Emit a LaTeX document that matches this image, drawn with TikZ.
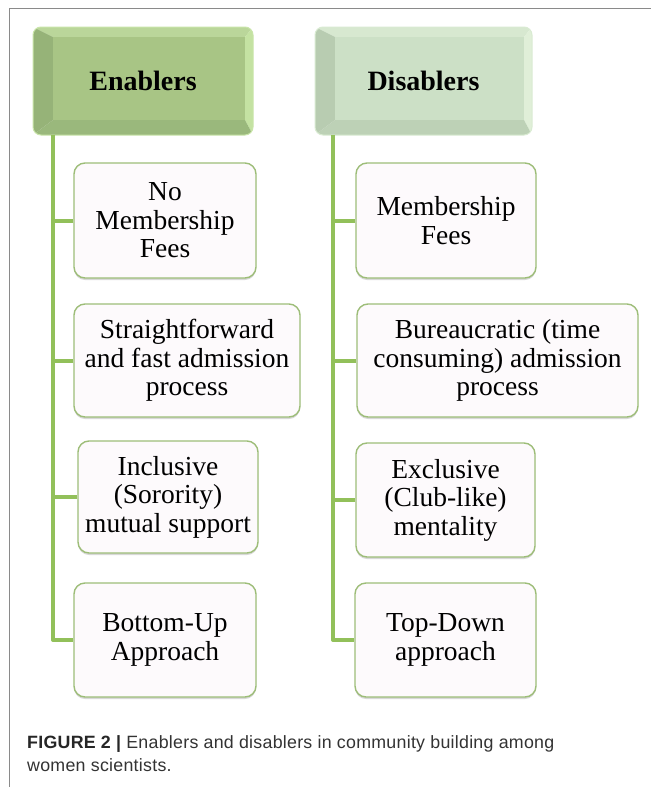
\documentclass[tikz,border=0pt]{standalone}
\usepackage{fontspec}
\setmainfont{Liberation Serif}
\newfontfamily\capfont[LetterSpace=1.5]{Liberation Sans}
\usetikzlibrary{shadows}
\definecolor{framegray}{HTML}{8A8A8A}
\definecolor{conngreen}{HTML}{92C05A}
\definecolor{boxgreen}{HTML}{9DBD78}
\definecolor{boxfill}{HTML}{FDFAFC}
\definecolor{enFace}{HTML}{A8C585}
\definecolor{enTop}{HTML}{BAD69A}
\definecolor{enRight}{HTML}{C4E2A2}
\definecolor{enLeft}{HTML}{96B378}
\definecolor{enBot}{HTML}{9AB87C}
\definecolor{enEdge}{HTML}{C9E5A9}
\definecolor{diFace}{HTML}{CCE0C6}
\definecolor{diTop}{HTML}{D7E8D0}
\definecolor{diRight}{HTML}{E0EFD8}
\definecolor{diLeft}{HTML}{B8CCB1}
\definecolor{diBot}{HTML}{BDD1B6}
\definecolor{diEdge}{HTML}{D9EBD2}
\definecolor{capgray}{HTML}{333333}
\begin{document}
\begin{tikzpicture}[x=1pt,y=-1pt,
  itembox/.style={draw=boxgreen, line width=1.4pt, fill=boxfill, rounded corners=11pt,
    align=center, font=\fontsize{27.5}{28.5}\selectfont, inner sep=0pt,
    drop shadow={shadow xshift=0pt, shadow yshift=-2pt, opacity=0.25, fill=black!60}},
  hdrtext/.style={font=\bfseries\fontsize{28}{30}\selectfont, inner sep=0pt, anchor=base},
  conn/.style={draw=conngreen, line width=4pt, line join=round},
  captext/.style={font=\capfont\fontsize{17.8}{23}\selectfont, text=capgray, anchor=base west, inner sep=0pt}
]
\useasboundingbox (0,0) rectangle (651,787);
\fill[white] (0,0) rectangle (651,787);
\draw[framegray, line width=1pt] (9,787) -- (9,8.5) -- (651,8.5);

% Enablers header (bevelled)
\begin{scope}
\clip[rounded corners=8pt] (33,27) rectangle (253,135);
\fill[enTop] (33,27) -- (253,27) -- (245,37) -- (53,37) -- cycle;
\fill[enRight] (253,27) -- (253,135) -- (245,120) -- (245,37) -- cycle;
\fill[enBot] (33,135) -- (253,135) -- (245,120) -- (53,120) -- cycle;
\fill[enLeft] (33,27) -- (53,37) -- (53,120) -- (33,135) -- cycle;
\fill[enFace] (53,37) rectangle (245,120);
\end{scope}
\draw[enEdge, line width=1pt, rounded corners=8pt] (33,27) rectangle (253,135);
\node[hdrtext] (en) at (143,90) {Enablers};

% Disablers header (bevelled)
\begin{scope}
\clip[rounded corners=8pt] (315,27) rectangle (532,135);
\fill[diTop] (315,27) -- (532,27) -- (524,37) -- (335,37) -- cycle;
\fill[diRight] (532,27) -- (532,135) -- (524,120) -- (524,37) -- cycle;
\fill[diBot] (315,135) -- (532,135) -- (524,120) -- (335,120) -- cycle;
\fill[diLeft] (315,27) -- (335,37) -- (335,120) -- (315,135) -- cycle;
\fill[diFace] (335,37) rectangle (524,120);
\end{scope}
\draw[diEdge, line width=1pt, rounded corners=8pt] (315,27) rectangle (532,135);
\node[hdrtext] (di) at (423.5,90) {Disablers};

% trunk tops
\coordinate (etop) at (53,135);
\coordinate (dtop) at (333,135);

% Enabler items
\node[itembox, minimum width=182pt, minimum height=115pt] (e1) at (165,220.5) {No\\Membership\\Fees};
\node[itembox, minimum width=226pt, minimum height=113pt] (e2) at (187,360.5) {Straightforward\\and fast admission\\process};
\node[itembox, minimum width=180pt, minimum height=112pt] (e3) at (168,497) {Inclusive\\(Sorority)\\mutual support};
\node[itembox, minimum width=182pt, minimum height=114pt] (e4) at (165,640) {Bottom-Up\\Approach};

% Disabler items
\node[itembox, minimum width=180pt, minimum height=115pt] (d1) at (446,220.5) {Membership\\Fees};
\node[itembox, minimum width=281pt, minimum height=113pt] (d2) at (497.5,360.5) {Bureaucratic (time\\consuming) admission\\process};
\node[itembox, minimum width=179pt, minimum height=114pt] (d3) at (445.5,500) {Exclusive\\(Club-like)\\mentality};
\node[itembox, minimum width=181pt, minimum height=114pt] (d4) at (445.5,640) {Top-Down\\approach};

% connectors
\draw[conn] (etop) |- (e4.west);
\draw[conn] (e1.west) -- (e1.west -| etop);
\draw[conn] (e2.west) -- (e2.west -| etop);
\draw[conn] (e3.west) -- (e3.west -| etop);
\draw[conn] (dtop) |- (d4.west);
\draw[conn] (d1.west) -- (d1.west -| dtop);
\draw[conn] (d2.west) -- (d2.west -| dtop);
\draw[conn] (d3.west) -- (d3.west -| dtop);

% caption
\node[captext] (cap1) at (27,748) {\textbf{\color{black!85}FIGURE 2 |} Enablers and disablers in community building among};
\node[captext] (cap2) at (27,771) {women scientists.};
\end{tikzpicture}
\end{document}
